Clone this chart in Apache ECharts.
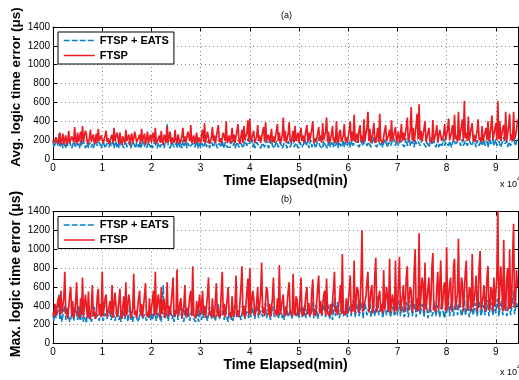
<!DOCTYPE html>
<html>
<head>
<meta charset="utf-8">
<script src="https://cdn.jsdelivr.net/npm/echarts@6/dist/echarts.min.js"></script>
<style>html,body{margin:0;padding:0;background:#fff}#c{width:519px;height:380px}</style>
</head>
<body>
<div id="c"></div>
<script>
// sampling step of the time axis (x 10^4 min); each row below = 1 unit (50 samples)
const xStep = 0.02;
const xTicks = [0,1,2,3,4,5,6,7,8,9];
const yTicks = [0,200,400,600,800,1000,1200,1400];
const seriesNames = ['FTSP + EATS', 'FTSP'];

// (a) Avg. logic time error (us)
const avgEats = [
190,125,140,180,210,140,270,125,160,190,115,170,180,115,200,140,125,180,170,115,140,190,190,125,115,170,160,115,200,140,125,190,180,115,140,170,115,180,190,125,160,115,125,190,200,140,140,180,170,115,
125,190,180,115,115,170,170,125,200,140,140,180,115,160,190,125,160,115,125,190,180,140,115,170,200,125,140,180,170,115,125,190,190,140,115,180,160,125,180,115,125,170,200,140,140,115,115,180,170,125,
160,115,125,180,190,140,115,170,180,125,140,190,200,115,115,250,370,140,160,115,125,180,190,125,140,170,115,190,180,125,160,115,200,140,125,180,115,170,190,125,140,115,170,190,125,160,200,115,140,180,
115,170,180,125,160,190,125,140,200,115,115,180,170,125,140,190,190,115,125,170,160,125,200,140,115,180,180,125,140,115,125,190,190,140,170,115,115,180,200,125,140,170,160,115,125,190,190,140,220,160,
140,190,230,125,170,115,125,180,200,140,160,115,115,170,190,125,140,200,180,115,125,170,210,140,160,115,115,190,190,125,140,180,200,115,125,170,170,140,115,190,190,125,140,180,210,125,125,170,180,115,
140,180,190,125,125,170,210,140,160,190,115,170,200,125,140,180,180,115,125,200,230,140,160,125,115,190,190,140,140,115,200,160,125,180,170,125,220,140,140,190,115,170,190,125,160,200,125,170,200,140,
160,190,125,170,200,140,140,210,230,160,170,125,125,190,190,140,160,200,210,140,125,180,180,125,140,200,240,160,160,125,125,190,200,140,170,125,140,210,220,160,125,180,190,140,160,125,230,170,140,200,
180,140,125,200,210,160,160,125,190,220,140,170,230,140,125,190,170,125,200,160,140,190,190,140,125,210,210,160,160,125,180,200,125,170,230,160,140,190,200,125,160,210,125,170,190,140,170,220,140,180,
200,160,140,190,180,125,125,210,220,160,160,140,190,230,140,170,210,140,125,190,180,140,160,200,200,140,140,180,240,160,125,200,190,140,170,210,140,170,210,140,160,190,125,170,250,160,170,200,140,180,
210,140,160,190,190,125,140,200,230,160,170,190,125,180,200,140,160,210,240,170,140,190,210];
const avgFtsp = [
200,170,160,230,240,160,180,280,150,200,270,160,210,250,150,190,300,170,170,240,250,180,340,200,160,280,180,230,290,170,350,190,170,300,260,160,150,220,310,180,230,260,160,200,270,170,320,190,170,250,
240,170,160,250,300,180,220,160,150,230,260,170,330,190,170,280,230,160,280,200,150,240,250,170,310,190,180,260,150,220,270,170,210,290,300,180,160,230,260,160,320,190,180,270,150,210,290,170,220,260,
170,250,280,180,330,160,160,220,250,170,300,190,150,260,230,170,350,180,200,290,160,230,240,170,310,200,170,260,280,160,150,240,330,180,240,170,170,290,300,190,360,170,200,250,160,220,280,170,230,200,
170,260,310,180,380,170,180,290,270,160,160,230,340,190,250,170,170,300,360,180,220,170,160,280,300,190,400,170,200,250,170,220,330,180,260,170,180,310,370,190,160,240,310,170,350,200,190,280,410,180,
430,200,190,260,300,170,170,240,360,190,250,170,160,290,340,180,390,200,200,260,170,230,320,180,240,170,180,300,370,190,280,170,160,250,440,190,300,170,180,270,390,200,170,240,300,180,350,190,190,280,
170,260,330,190,250,170,160,300,360,180,280,200,180,320,400,170,220,180,160,270,340,190,250,170,380,200,180,290,440,180,290,170,170,260,350,190,230,170,400,200,170,280,310,180,180,250,370,190,230,170,
180,300,400,190,290,200,470,180,190,270,170,310,360,190,250,170,420,200,180,330,500,190,320,170,190,280,380,200,170,250,330,180,480,200,220,170,180,300,360,190,170,260,310,180,410,200,190,290,340,180,
200,290,170,230,370,190,280,200,180,340,440,190,230,300,550,200,330,180,190,360,480,210,580,200,300,190,180,320,400,180,190,280,330,200,220,170,413,190,170,270,360,180,200,310,320,190,170,260,370,200,
190,320,430,200,180,290,360,190,470,210,250,180,500,200,190,350,420,190,617,220,280,190,450,200,200,330,380,190,260,180,170,300,420,200,230,180,350,190,180,280,330,200,400,190,190,340,460,200,220,180,
380,200,617,210,400,190,200,330,360,200,500,190,190,350,480,200,260,190,500,210,190,300,420];

// (b) Max. logic time error (us)
const maxEats = [
300,240,380,270,250,340,520,260,330,230,240,360,400,250,280,330,350,230,230,300,370,240,260,380,310,250,400,270,240,350,340,230,280,300,220,360,360,250,300,230,250,340,390,260,270,310,330,240,240,370,
360,240,250,320,330,260,280,380,400,250,230,330,340,240,260,370,380,250,300,230,240,350,350,260,270,400,230,300,390,250,310,230,250,340,360,270,280,230,240,380,400,260,260,310,330,240,230,350,370,250,
330,250,270,360,380,240,250,330,350,260,230,450,620,270,280,350,360,240,240,380,400,260,300,230,250,340,370,250,230,390,340,260,280,230,410,270,250,350,320,240,240,370,380,260,270,230,350,300,230,360,
300,250,400,270,250,340,360,240,230,390,380,260,270,330,340,240,240,370,420,260,280,240,350,300,250,380,390,260,230,340,360,250,300,240,250,400,410,270,270,330,340,250,240,380,380,260,260,340,350,270,
450,280,260,380,370,260,280,410,400,270,250,350,360,280,300,400,430,270,270,360,350,250,240,390,380,280,290,350,410,260,260,380,340,270,300,250,250,400,420,280,280,350,370,260,260,420,400,290,290,360,
270,400,380,280,300,360,420,270,260,400,390,280,280,350,440,270,300,410,370,260,250,380,410,290,290,370,460,280,270,420,380,260,310,400,250,350,480,290,300,440,360,270,270,400,420,290,290,360,390,280,
280,400,420,290,310,450,480,280,270,420,400,290,300,380,440,270,280,430,410,300,320,390,470,280,270,410,380,290,300,450,500,300,280,380,420,270,260,400,390,300,310,430,450,280,280,390,400,300,330,440,
300,420,460,290,270,400,420,280,310,440,390,280,280,410,450,290,300,390,420,280,270,430,480,300,310,420,380,280,290,460,440,270,260,400,400,290,320,450,470,290,280,410,390,280,300,440,430,300,270,380,
320,410,440,290,310,460,400,290,280,420,470,300,300,440,420,290,320,460,510,300,290,400,440,280,310,470,480,300,280,430,420,290,300,450,460,290,290,410,430,300,330,460,400,290,280,440,450,300,310,420,
320,440,480,290,280,420,450,300,300,460,380,290,330,470,420,300,290,450,560,310,310,430,400];
const maxFtsp = [
330,280,420,300,280,460,500,300,560,320,300,480,760,310,380,260,270,520,600,290,450,270,260,430,650,300,330,270,480,310,700,280,290,520,400,270,550,300,260,380,620,290,350,260,290,500,580,300,420,280,
760,290,300,480,520,280,270,390,450,300,620,270,290,540,400,280,330,460,580,290,260,400,500,280,650,300,300,520,440,270,270,360,740,300,350,270,290,480,560,300,420,280,270,510,640,290,330,270,480,300,
300,450,560,290,760,300,280,520,430,270,600,310,320,470,270,380,650,290,400,300,290,540,700,280,350,310,785,290,300,430,480,270,260,400,620,300,380,280,300,500,560,290,820,310,330,270,450,300,280,520,
310,420,560,300,400,270,280,510,700,300,340,280,480,310,270,450,640,290,380,270,300,560,760,300,420,280,290,470,600,300,330,270,500,310,280,420,720,300,350,280,300,600,820,300,400,270,280,540,690,300,
800,310,300,560,480,290,340,450,600,300,290,520,860,320,380,290,310,600,550,300,420,280,290,480,700,320,350,290,480,300,830,310,300,460,520,290,380,300,290,560,650,310,340,290,740,330,300,500,460,290,
320,480,700,300,380,290,290,520,600,310,430,290,320,560,680,300,360,290,300,600,720,320,450,300,310,510,560,300,690,320,330,290,420,310,300,580,760,330,380,300,320,460,620,310,950,330,350,300,480,320,
340,560,720,320,420,340,880,330,330,600,560,320,380,700,1200,340,360,320,500,650,760,330,340,560,620,320,390,720,910,330,330,500,560,340,420,320,780,350,370,600,600,330,900,340,340,520,500,320,880,350,
390,620,920,340,360,500,620,330,450,700,820,350,340,600,560,330,400,760,1000,350,480,340,1170,360,380,700,620,330,860,360,340,580,700,340,450,800,960,350,400,330,600,760,360,340,880,360,420,600,650,340,
1020,360,380,620,700,340,450,820,900,360,380,540,1110,380,420,700,640,340,360,760,880,350,400,600,560,340,950,380,380,560,720,340,430,820,980,360,360,500,620,340,420,700,820,350,380,600,560,340,700,400,
420,700,1420,360,380,820,600,340,1100,380,350,700,800,360,1000,380,420,900,1270,380,450,780,600];

const toPts = arr => arr.map((v, i) => [+(i * xStep).toFixed(3), v]);

const FONT = "'Liberation Sans', Arial, Helvetica, sans-serif";
const RED = '#ec1c24';
const BLUE = '#0d80c4';
const grids = [
  {left: 53, top: 27, width: 465, height: 132},
  {left: 53, top: 211.5, width: 465, height: 132}
];

const xAxes = [], yAxes = [], series = [], legends = [];
grids.forEach((g, gi) => {
  xAxes.push({
    type: 'value', gridIndex: gi, min: 0, max: 9.45, interval: 1, position: 'bottom',
    name: 'Time Elapsed(min)', nameLocation: 'middle', nameGap: 15,
    nameTextStyle: {fontFamily: FONT, fontWeight: 'bold', fontSize: 14, color: '#000'},
    axisLine: {show: true, onZero: false, lineStyle: {color: '#000', width: 1}},
    axisTick: {show: true, inside: true, length: 4, lineStyle: {color: '#000'}},
    axisLabel: {show: true, margin: 4, fontFamily: FONT, fontSize: 10, color: '#000', showMaxLabel: false,
      formatter: v => xTicks.includes(v) ? String(v) : ''},
    splitLine: {show: true, lineStyle: {color: '#8a8a8a', type: [1, 3], width: 1}}
  });
  xAxes.push({
    type: 'value', gridIndex: gi, min: 0, max: 9.45, interval: 1, position: 'top',
    axisLine: {show: true, onZero: false, lineStyle: {color: '#000', width: 1}},
    axisTick: {show: true, inside: true, length: 4, lineStyle: {color: '#000'}},
    axisLabel: {show: false}, splitLine: {show: false}
  });
  yAxes.push({
    type: 'value', gridIndex: gi, min: 0, max: 1400, interval: 200, position: 'left',
    axisLine: {show: true, onZero: false, lineStyle: {color: '#000', width: 1}},
    axisTick: {show: true, inside: true, length: 4, lineStyle: {color: '#000'}},
    axisLabel: {show: true, margin: 3, fontFamily: FONT, fontSize: 10, color: '#000',
      formatter: v => yTicks.includes(v) ? String(v) : ''},
    splitLine: {show: true, lineStyle: {color: '#8a8a8a', type: [1, 3], width: 1}}
  });
  yAxes.push({
    type: 'value', gridIndex: gi, min: 0, max: 1400, interval: 200, position: 'right',
    axisLine: {show: true, onZero: false, lineStyle: {color: '#000', width: 1}},
    axisTick: {show: true, inside: true, length: 4, lineStyle: {color: '#000'}},
    axisLabel: {show: false}, splitLine: {show: false}
  });
  const blueData = gi === 0 ? avgEats : maxEats;
  const redData = gi === 0 ? avgFtsp : maxFtsp;
  series.push({
    name: seriesNames[0], type: 'line', xAxisIndex: gi * 2, yAxisIndex: gi * 2,
    data: toPts(blueData), showSymbol: false, symbol: 'none', animation: false, clip: true,
    lineStyle: {color: BLUE, width: 1.6, type: [6, 2]}, itemStyle: {color: BLUE}
  });
  series.push({
    name: seriesNames[1], type: 'line', xAxisIndex: gi * 2, yAxisIndex: gi * 2,
    data: toPts(redData), showSymbol: false, symbol: 'none', animation: false, clip: true,
    lineStyle: {color: RED, width: 1.7, join: 'bevel'}, itemStyle: {color: RED}
  });
  legends.push({
    data: seriesNames, orient: 'vertical', left: 58, top: g.top + 5,
    backgroundColor: '#fff', borderColor: '#000', borderWidth: 1,
    padding: [3, 5, 3, 5], itemGap: 4, itemWidth: 31, itemHeight: 12,
    selectedMode: false,
    itemStyle: {opacity: 0, borderWidth: 0},
    lineStyle: {width: 1.5, type: 'inherit'},
    textStyle: {fontFamily: FONT, fontWeight: 'bold', fontSize: 11, color: '#000'}
  });
});

const chart = echarts.init(document.getElementById('c'), null, {renderer: 'canvas'});
chart.setOption({
  animation: false,
  backgroundColor: '#fff',
  grid: grids,
  xAxis: xAxes,
  yAxis: yAxes,
  series: series,
  legend: legends,
  graphic: [
    {type: 'text', x: 16, y: 87, rotation: Math.PI / 2,
      style: {text: 'Avg. logic time error (\u03bcs)', font: 'bold 13.5px ' + FONT, fill: '#000', textAlign: 'center', textVerticalAlign: 'middle'}},
    {type: 'text', x: 16, y: 274, rotation: Math.PI / 2,
      style: {text: 'Max. logic time error (\u03bcs)', font: 'bold 14px ' + FONT, fill: '#000', textAlign: 'center', textVerticalAlign: 'middle'}},
    {type: 'text', left: 281, top: 11, style: {text: '(a)', font: '9px ' + FONT, fill: '#000'}},
    {type: 'text', left: 281, top: 195, style: {text: '(b)', font: '9px ' + FONT, fill: '#000'}},
    {type: 'text', left: 500, top: 180, style: {text: 'x 10', font: '9px ' + FONT, fill: '#000'}},
    {type: 'text', left: 517, top: 176, style: {text: '4', font: '7px ' + FONT, fill: '#000'}},
    {type: 'text', left: 500, top: 368, style: {text: 'x 10', font: '9px ' + FONT, fill: '#000'}},
    {type: 'text', left: 517, top: 364, style: {text: '4', font: '7px ' + FONT, fill: '#000'}}
  ]
});
</script>
</body>
</html>
